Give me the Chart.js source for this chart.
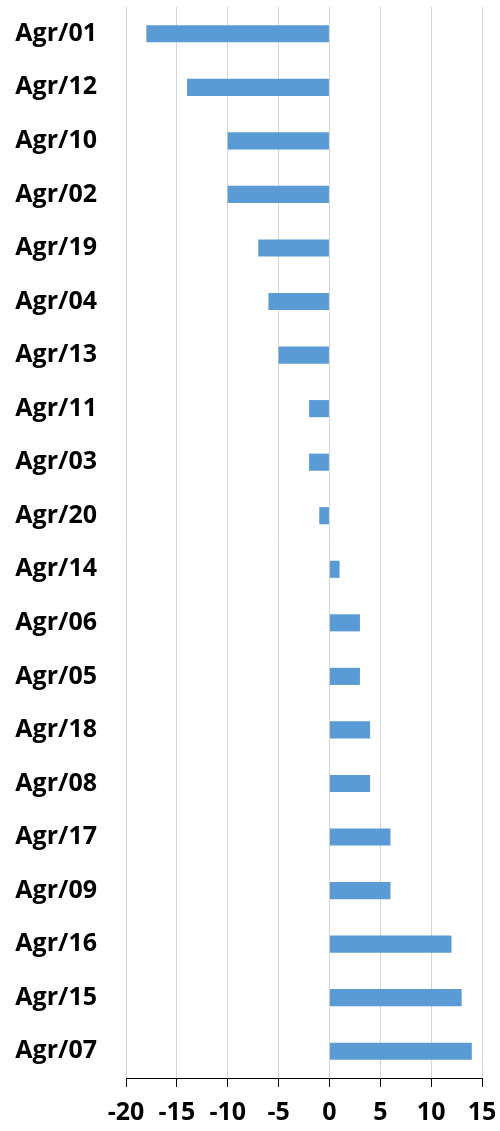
<!DOCTYPE html>
<html>
<head>
<meta charset="utf-8">
<script src="https://cdn.jsdelivr.net/npm/chart.js@4/dist/chart.umd.min.js"></script>
<style>
  html, body { margin: 0; padding: 0; background: #fff; }
  #wrap { width: 500px; height: 1131px; position: relative; }
</style>
</head>
<body>
<div id="wrap"><canvas id="chart"></canvas></div>
<script>
// Data
const categories = ['Agr/01', 'Agr/12', 'Agr/10', 'Agr/02', 'Agr/19', 'Agr/04', 'Agr/13',
    'Agr/11', 'Agr/03', 'Agr/20', 'Agr/14', 'Agr/06', 'Agr/05', 'Agr/18', 'Agr/08',
    'Agr/17', 'Agr/09', 'Agr/16', 'Agr/15', 'Agr/07'];
const values = [-18, -14, -10, -10, -7, -6, -5, -2, -2, -1, 1, 3, 3, 4, 4, 6, 6, 12, 13, 14];
const xTicks = [-20, -15, -10, -5, 0, 5, 10, 15];

const labelFont = { family: 'Open Sans', size: 25, weight: 'bold' };

new Chart(document.getElementById('chart'), {
    type: 'bar',
    data: {
        labels: categories,
        datasets: [{
            data: values,
            backgroundColor: '#5b9bd5',
            borderWidth: 0,
            categoryPercentage: 1,
            barPercentage: 0.32
        }]
    },
    options: {
        indexAxis: 'y',
        responsive: true,
        maintainAspectRatio: false,
        animation: false,
        layout: { padding: { top: 7, right: 18, bottom: 0, left: 0 } },
        plugins: { legend: { display: false }, tooltip: { enabled: false } },
        scales: {
            x: {
                min: xTicks[0],
                max: xTicks[xTicks.length - 1],
                afterBuildTicks: axis => { axis.ticks = xTicks.map(v => ({ value: v })); },
                afterFit: axis => {
                    axis.height = 53;
                    axis.paddingLeft = 0;
                    axis.paddingRight = 0;
                },
                grid: { color: '#d4d4d4', lineWidth: 1, tickColor: '#000', tickLength: 9 },
                border: { color: '#000', width: 1 },
                ticks: { color: '#000', font: labelFont, padding: 11 }
            },
            y: {
                afterFit: axis => {
                    axis.width = 126;
                    axis.paddingTop = 0;
                    axis.paddingBottom = 0;
                },
                grid: { display: false, drawTicks: false },
                border: { display: false },
                ticks: { color: '#000', font: labelFont, padding: 29 }
            }
        }
    }
});
</script>
</body>
</html>
